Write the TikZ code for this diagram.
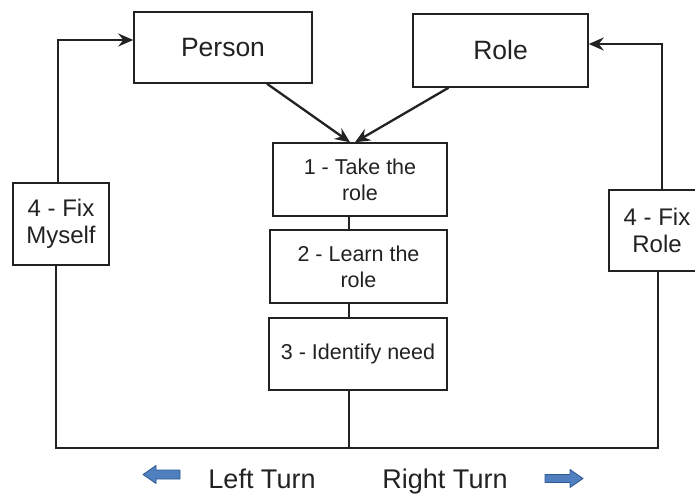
\documentclass[tikz,border=0pt]{standalone}
\usepackage{fontspec}
\setmainfont{Liberation Sans}
\usetikzlibrary{arrows.meta}
\definecolor{ink}{HTML}{222222}
\definecolor{turnblue}{HTML}{4F7FBF}
\definecolor{turnedge}{HTML}{2F5A90}
\tikzset{
  box/.style={draw=ink, line width=1.5pt, inner sep=0pt, align=center, text=ink, anchor=center},
  conn/.style={draw=ink, line width=2.3pt},
  arr/.style={conn, -{Stealth[length=15pt,width=13pt,inset=5pt]}},
  turn/.style={fill=turnblue, draw=turnedge, line width=0.8pt, line join=round},
  lbl/.style={text=ink, font=\fontsize{27}{30}\selectfont, inner sep=0pt}
}
\begin{document}
\begin{tikzpicture}[x=1pt,y=-1pt]
\useasboundingbox (0,0) rectangle (695,496);
\fill[white] (0,0) rectangle (695,496);
% boxes
\node[box, minimum width=178pt, minimum height=71pt, font=\fontsize{26.5}{28}\selectfont] (person) at (223,47.5) {Person};
\node[box, minimum width=175pt, minimum height=73pt, font=\fontsize{26.5}{28}\selectfont] (role) at (500.5,50.5) {Role};
\node[box, minimum width=174pt, minimum height=73pt, font=\fontsize{21.5}{26}\selectfont] (b1) at (360,179.5) {1 - Take the\\role};
\node[box, minimum width=177pt, minimum height=73pt, font=\fontsize{21.5}{26}\selectfont] (b2) at (358.5,266.5) {2 - Learn the\\role};
\node[box, minimum width=178pt, minimum height=72pt, font=\fontsize{21.5}{26}\selectfont] (b3) at (358,354) {3 - Identify need};
\node[box, minimum width=96pt, minimum height=82pt, font=\fontsize{24}{27}\selectfont] (fm) at (61,224) {4 - Fix\\Myself};
\node[box, minimum width=96pt, minimum height=81pt, font=\fontsize{24}{27}\selectfont] (fr) at (657,230.5) {4 - Fix\\Role};
% coordinates
\coordinate (bl) at (56,448);
\coordinate (br) at (658,448);
\coordinate (bc) at (349,448);
\coordinate (lt) at (58,40);
\coordinate (rt) at (662,44);
% connectors
\draw[arr] (fm.north -| lt) -- (lt) -- (lt -| person.west);
\draw[arr] (fr.north -| rt) -- (rt) -- (rt -| role.east);
\draw[arr] ([xshift=44pt]person.south) -- ([xshift=-10pt]b1.north);
\draw[arr] ([xshift=-52pt]role.south) -- ([xshift=-5pt]b1.north);
\draw[conn] (b1.south -| bc) -- (b2.north -| bc);
\draw[conn] (b2.south -| bc) -- (b3.north -| bc);
\draw[conn] (b3.south -| bc) -- (bc);
\draw[conn, line join=miter] (fm.south -| bl) -- (bl) -- (br) -- (fr.south -| br);
% turn labels
\draw[turn] (180,470) -- (156,470) -- (156,465.5) -- (143,474.5) -- (156,483.5) -- (156,479) -- (180,479) -- cycle;
\node[lbl, anchor=base] (lturn) at (262,488) {Left Turn};
\node[lbl, anchor=base] (rturn) at (445,488) {Right Turn};
\draw[turn] (545,474.5) -- (570,474.5) -- (570,469.5) -- (583,478.5) -- (570,487.5) -- (570,482.5) -- (545,482.5) -- cycle;
\end{tikzpicture}
\end{document}
